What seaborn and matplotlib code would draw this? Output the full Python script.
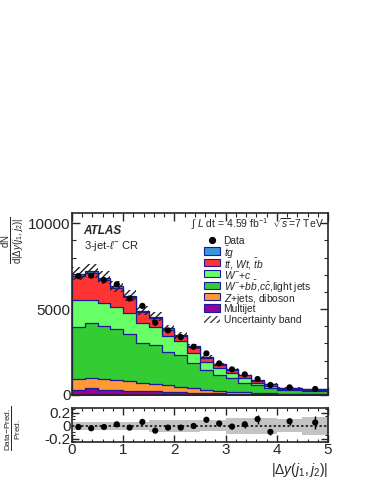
import numpy as np
import pandas as pd
import seaborn as sns
import matplotlib
matplotlib.use("Agg")
import matplotlib.pyplot as plt
from matplotlib.patches import Rectangle
from matplotlib.ticker import MultipleLocator

# ---------------- data ----------------
bin_edges = [0, 0.25, 0.5, 0.75, 1.0, 1.25, 1.5, 1.75, 2.0, 2.25, 2.5, 2.75,
             3.0, 3.25, 3.5, 3.75, 4.0, 4.5, 5.0]
multijet = [300, 390, 300, 290, 250, 235, 235, 195, 190, 135, 110, 90, 80, 70, 60, 50, 40, 40]
zjets = [610, 618, 630, 580, 564, 443, 405, 365, 294, 253, 170, 120, 100, 80, 70, 60, 40, 40]
wbb_light = [3060, 3197, 3080, 2990, 2711, 2322, 2260, 1940, 1866, 1492, 1170, 940, 820, 570, 430, 280, 220, 160]
wc = [1550, 1355, 1320, 1240, 1225, 1170, 1070, 940, 800, 580, 488, 400, 300, 280, 160, 150, 50, 45]
ttbar = [1430, 1550, 1380, 1110, 940, 650, 510, 370, 260, 310, 237, 195, 183, 151, 105, 85, 57, 41]
tq = [120, 130, 120, 110, 100, 90, 80, 70, 60, 55, 45, 35, 30, 25, 20, 15, 10, 8]
data = [6930, 6950, 6690, 6450, 5620, 5190, 4210, 3760, 3370, 2810, 2420, 1840, 1492, 1200, 930, 580, 445, 350]
ratio = [-0.02, -0.04, -0.02, 0.02, -0.03, 0.057, -0.076, -0.03, -0.03, -0.005, 0.09, 0.033,
         -0.014, 0.02, 0.10, -0.095, 0.067, 0.048]
ratio_err = [0.01, 0.01, 0.01, 0.012, 0.012, 0.015, 0.02, 0.02, 0.02, 0.025, 0.035, 0.035,
             0.04, 0.05, 0.07, 0.05, 0.05, 0.1]
unc_band = [0.06, 0.06, 0.06, 0.06, 0.06, 0.06, 0.09, 0.09, 0.09, 0.09, 0.08, 0.08,
            0.12, 0.12, 0.12, 0.12, 0.10, 0.14]

labels = [r"$\bar{t}q$", r"$t\bar{t}$, $Wt$, $\bar{t}b$", r"$W^{-}$+$c$",
          r"$W^{-}$+$b\bar{b}$,$c\bar{c}$,light jets", r"$Z$+jets, diboson", "Multijet"]
colors = ["#3399dd", "#ff3333", "#66ff66", "#33cc33", "#ff9933", "#990099"]
edge_col = "#1a1a9a"

# ---------------- style ----------------
sns.set_style("ticks")
plt.rcParams["font.family"] = ["Liberation Sans", "DejaVu Sans"]
plt.rcParams["mathtext.fontset"] = "custom"
plt.rcParams["mathtext.rm"] = "Liberation Sans"
plt.rcParams["mathtext.it"] = "Liberation Sans:italic"
plt.rcParams["mathtext.bf"] = "Liberation Sans:bold"
plt.rcParams["hatch.linewidth"] = 1.0

edges = np.array(bin_edges)
centers = 0.5 * (edges[:-1] + edges[1:])
widths = np.diff(edges)
comps = [tq, ttbar, wc, wbb_light, zjets, multijet]  # top to bottom
arr = np.array(comps, dtype=float)
total = arr.sum(axis=0)

fig = plt.figure(figsize=(3.74, 4.84), dpi=100)
W, H = 374, 484
AX_L, AX_R, AX_T, AX_B = 72, 328, 213, 395
ax = fig.add_axes([AX_L / W, (H - AX_B) / H, (AX_R - AX_L) / W, (AX_B - AX_T) / H])
ax2 = fig.add_axes([AX_L / W, (H - 442) / H, (AX_R - AX_L) / W, 34 / H])

# stacked histograms drawn from cumulative tops down
for i in range(len(comps)):
    cum = arr[i:].sum(axis=0)
    df = pd.DataFrame({"x": centers, "w": cum})
    sns.histplot(data=df, x="x", weights="w", bins=list(bin_edges), element="step", fill=True,
                 color=colors[i], alpha=1, edgecolor=edge_col, linewidth=0.9, ax=ax)

# uncertainty band (hatched)
u = np.array(unc_band)
ax.bar(edges[:-1], 2 * 0.055 * total, bottom=total * (1 - 0.055), width=widths, align="edge",
       fill=False, hatch="/////", edgecolor="#222222", linewidth=0, zorder=3)

# data points
dfd = pd.DataFrame({"x": centers, "y": data})
ax.errorbar(centers, data, yerr=np.array(ratio_err) * np.array(data) * 0.5, fmt="none",
            ecolor="black", elinewidth=0.9, zorder=4)
sns.scatterplot(data=dfd, x="x", y="y", color="black", s=20, edgecolor="none", ax=ax, zorder=5)

ax.set_xlim(0, 5)
ax.set_ylim(0, 10600)
ax.set_xlabel("")
ax.set_ylabel("")
ax.xaxis.set_major_locator(MultipleLocator(1))
ax.xaxis.set_minor_locator(MultipleLocator(0.2))
ax.yaxis.set_major_locator(MultipleLocator(5000))
ax.yaxis.set_minor_locator(MultipleLocator(1000))
ax.tick_params(axis="both", which="both", direction="in", top=True, right=True)
ax.tick_params(which="major", length=6, width=1)
ax.tick_params(which="minor", length=3, width=0.8)
ax.tick_params(axis="x", labelbottom=False)
ax.tick_params(axis="y", labelsize=11, pad=1)
for s in ax.spines.values():
    s.set_linewidth(1.2)
    s.set_zorder(10)

# texts
ax.text(0.045, 0.935, "ATLAS", transform=ax.transAxes, fontsize=8.5, fontweight="bold",
        fontstyle="italic", va="top", ha="left")
ax.text(0.045, 0.855, r"3-jet-$\ell^{-}$ CR", transform=ax.transAxes, fontsize=8,
        va="top", ha="left")
ax.text(0.985, 0.985, r"$\int$ $L$ dt = 4.59 fb$^{-1}$  $\sqrt{s}$=7 TeV",
        transform=ax.transAxes, fontsize=7.5, va="top", ha="right")

# legend drawn manually with uniform row spacing
def fx(px):
    return (px - AX_L) / (AX_R - AX_L)

def fy(py):
    return (AX_B - py) / (AX_B - AX_T)

row0, step = 239.5, 11.4
leg_labels = ["Data"] + labels + ["Uncertainty band"]
for k, lab in enumerate(leg_labels):
    yc = row0 + step * k
    if k == 0:
        ax.plot([fx(212)], [fy(yc)], marker="o", color="black", markersize=4.2,
                transform=ax.transAxes, clip_on=False, zorder=6)
    elif k <= len(colors):
        ax.add_patch(Rectangle((fx(204), fy(yc + 3.6)), fx(220) - fx(204), fy(yc - 3.6) - fy(yc + 3.6),
                               transform=ax.transAxes, facecolor=colors[k - 1],
                               edgecolor=edge_col, linewidth=0.8, zorder=6))
    else:
        ax.add_patch(Rectangle((fx(204), fy(yc + 3.6)), fx(220) - fx(204), fy(yc - 3.6) - fy(yc + 3.6),
                               transform=ax.transAxes, facecolor="white", hatch="/////",
                               edgecolor="#444444", linewidth=0, zorder=6))
    ax.text(fx(223.5), fy(yc), lab, transform=ax.transAxes, fontsize=7.4,
            va="center_baseline", ha="left", zorder=6)

# ratio panel
ax2.bar(edges[:-1], 2 * u, bottom=-u, width=widths, align="edge", color="#c3c3c3",
        linewidth=0, zorder=1)
ax2.axhline(0, color="black", linestyle=(0, (1.5, 1.5)), linewidth=1.1, zorder=2)
ax2.errorbar(centers, ratio, yerr=ratio_err, fmt="none", ecolor="black", elinewidth=1.0, zorder=3)
dfr = pd.DataFrame({"x": centers, "r": ratio})
sns.scatterplot(data=dfr, x="x", y="r", color="black", s=20, edgecolor="none", ax=ax2, zorder=4)
ax2.set_xlim(0, 5)
ax2.set_ylim(-0.25, 0.27)
ax2.set_xlabel("")
ax2.set_ylabel("")
ax2.xaxis.set_major_locator(MultipleLocator(1))
ax2.xaxis.set_minor_locator(MultipleLocator(0.2))
ax2.yaxis.set_minor_locator(MultipleLocator(0.05))
ax2.set_yticks([-0.2, 0, 0.2])
ax2.set_yticklabels(["-0.2", "0", "0.2"])
ax2.tick_params(axis="both", which="both", direction="in", top=True, right=True)
ax2.tick_params(which="major", length=5, width=1)
ax2.tick_params(which="minor", length=2.5, width=0.8)
ax2.tick_params(axis="both", labelsize=11, pad=1)
for s in ax2.spines.values():
    s.set_linewidth(1.2)
    s.set_zorder(10)

fig.text(328 / W, 1 - 470 / H, r"$|\Delta y(j_{1},j_{2})|$", ha="right", va="center", fontsize=10)
fig.text(13 / W, 1 - 240 / H, r"$\frac{\mathrm{dN}}{\mathrm{d}|\Delta y(j_{1},j_{2})|}$",
         rotation=90, ha="center", va="center", fontsize=10)
fig.text(13 / W, 1 - 428 / H, r"$\frac{\mathrm{Data\mathrm{-}Pred.}}{\mathrm{Pred.}}$",
         rotation=90, ha="center", va="center", fontsize=8.5)

fig.savefig("out.png", dpi=100)
